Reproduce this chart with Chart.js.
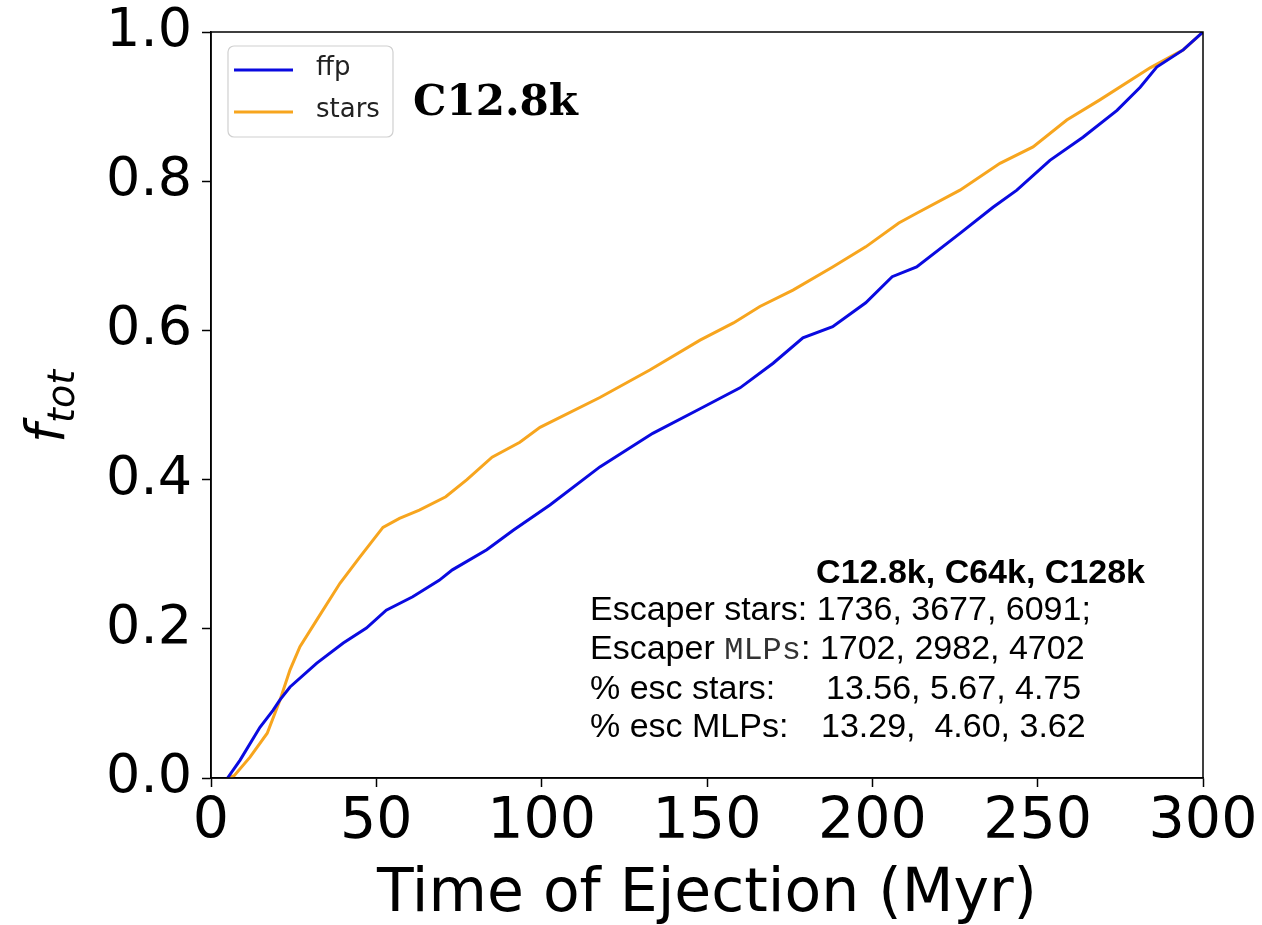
<!DOCTYPE html>
<html>
<head>
<meta charset="utf-8">
<script src="https://cdn.jsdelivr.net/npm/chart.js@4"></script>
<style>
  html, body { margin: 0; padding: 0; background: #fff; }
  #wrap { width: 1262px; height: 925px; }
</style>
</head>
<body>
<div id="wrap"><canvas id="chart"></canvas></div>
<script>
// cumulative escape fraction vs ejection time
const ffpTime = [5, 8.8, 14.8, 18.8, 20.9, 23.9, 32, 40, 47, 53, 61, 69, 73, 83.4, 91.4, 102.5, 117.6, 133.6, 147.9, 160, 170, 179, 188, 198, 206, 213.4, 226.5, 236.5, 243.7, 253.7, 263.7, 274, 281, 286, 294, 300];
const ffpFrac = [0, 0.024, 0.068, 0.091, 0.105, 0.122, 0.154, 0.181, 0.201, 0.225, 0.243, 0.265, 0.279, 0.306, 0.332, 0.366, 0.417, 0.462, 0.495, 0.523, 0.556, 0.590, 0.605, 0.637, 0.672, 0.685, 0.73, 0.765, 0.788, 0.828, 0.859, 0.895, 0.926, 0.953, 0.976, 1.0];

const starTime = [5, 7, 11.8, 17, 20.9, 23.9, 26.9, 32, 39, 45, 52, 57, 63, 71, 77.4, 85, 93.4, 99.5, 117.6, 132.7, 147.9, 158, 166, 176, 188, 198, 208, 213.4, 226.5, 238.6, 248.6, 258.8, 268.8, 284, 294, 300];
const starFrac = [0, 0.003, 0.028, 0.06, 0.105, 0.145, 0.176, 0.212, 0.261, 0.296, 0.336, 0.348, 0.359, 0.377, 0.40, 0.43, 0.45, 0.47, 0.51, 0.547, 0.587, 0.61, 0.632, 0.654, 0.685, 0.712, 0.744, 0.757, 0.788, 0.824, 0.846, 0.882, 0.909, 0.952, 0.976, 1.0];

const seriesNames = ['ffp', 'stars'];
const xTicks = [0, 50, 100, 150, 200, 250, 300];
const yTicks = [0.0, 0.2, 0.4, 0.6, 0.8, 1.0];

const modelLabel = 'C12.8k';
const infoHeader = 'C12.8k, C64k, C128k';
const infoRows = [
    ['Escaper stars: 1736, 3677, 6091;'],
    ['Escaper ', 'MLPs', ': 1702, 2982, 4702'],
    ['% esc stars:', '13.56, 5.67, 4.75'],
    ['% esc MLPs:', '13.29,  4.60, 3.62']
];

const BLUE = '#0a0ae0';
const ORANGE = '#f7a51e';

function toPoints(xs, ys) {
    return xs.map((x, i) => ({x: x, y: ys[i]}));
}

const extras = {
    id: 'extras',
    afterDraw(chart) {
        const ctx = chart.ctx;
        const a = chart.chartArea;
        ctx.save();

        // box round the axes
        ctx.strokeStyle = '#000';
        ctx.lineWidth = 1.5;
        ctx.strokeRect(a.left, a.top, a.right - a.left, a.bottom - a.top);

        // y title f_tot (italic, subscript)
        ctx.translate(46, 407);
        ctx.rotate(-Math.PI / 2);
        ctx.fillStyle = '#000';
        ctx.textBaseline = 'alphabetic';
        ctx.font = 'italic 54px "DejaVu Sans"';
        const wf = ctx.measureText('f').width;
        ctx.font = 'italic 38px "DejaVu Sans"';
        const ws = ctx.measureText('tot').width;
        const x0 = -(wf + ws) / 2;
        ctx.font = 'italic 54px "DejaVu Sans"';
        ctx.fillText('f', x0, 18);
        ctx.font = 'italic 38px "DejaVu Sans"';
        ctx.fillText('tot', x0 + wf + 1, 28);
        ctx.setTransform(1, 0, 0, 1, 0, 0);

        // legend
        ctx.fillStyle = 'rgba(255,255,255,0.85)';
        ctx.strokeStyle = '#d0d0d0';
        ctx.lineWidth = 1.2;
        ctx.beginPath();
        ctx.roundRect(228, 46, 165, 91, 6);
        ctx.fill();
        ctx.stroke();
        chart.data.datasets.forEach((ds, i) => {
            const yy = 70 + i * 42;
            ctx.strokeStyle = ds.borderColor;
            ctx.lineWidth = 3;
            ctx.beginPath();
            ctx.moveTo(234, yy);
            ctx.lineTo(293, yy);
            ctx.stroke();
            ctx.fillStyle = '#222';
            ctx.font = '26px "DejaVu Sans"';
            ctx.textBaseline = 'middle';
            ctx.fillText(ds.label, 316, yy - 2);
        });

        // model name
        ctx.fillStyle = '#000';
        ctx.font = 'bold 42px "DejaVu Serif"';
        ctx.textBaseline = 'alphabetic';
        ctx.fillText(modelLabel, 413, 115);

        // info block
        ctx.font = 'bold 34px "Liberation Sans"';
        ctx.textAlign = 'right';
        ctx.fillText(infoHeader, 1145, 583);
        ctx.textAlign = 'left';
        const sans = '34px "Liberation Sans"';
        const mono = '32px "Liberation Mono"';
        const rowY = [620, 659, 699, 737];
        // row 1
        ctx.font = sans;
        ctx.fillText(infoRows[0][0], 590, rowY[0]);
        // row 2 with monospace MLPs
        let xx = 590;
        ctx.fillText(infoRows[1][0], xx, rowY[1]);
        xx += ctx.measureText(infoRows[1][0]).width;
        ctx.font = mono;
        ctx.fillStyle = '#333';
        ctx.fillText(infoRows[1][1], xx, rowY[1]);
        xx += ctx.measureText(infoRows[1][1]).width;
        ctx.font = sans;
        ctx.fillStyle = '#000';
        ctx.fillText(infoRows[1][2], xx, rowY[1]);
        // rows 3-4, numbers in a column
        ctx.fillText(infoRows[2][0], 590, rowY[2]);
        ctx.fillText(infoRows[2][1], 826, rowY[2]);
        ctx.fillText(infoRows[3][0], 590, rowY[3]);
        ctx.fillText(infoRows[3][1], 821, rowY[3]);

        ctx.restore();
    }
};

new Chart(document.getElementById('chart'), {
    type: 'line',
    data: {
        datasets: [{
            label: seriesNames[0],
            data: toPoints(ffpTime, ffpFrac),
            borderColor: BLUE,
            borderWidth: 3,
            pointRadius: 0,
            fill: false,
            tension: 0
        }, {
            label: seriesNames[1],
            data: toPoints(starTime, starFrac),
            borderColor: ORANGE,
            borderWidth: 3,
            pointRadius: 0,
            fill: false,
            tension: 0
        }]
    },
    options: {
        responsive: true,
        maintainAspectRatio: false,
        animation: false,
        layout: {padding: {top: 32, right: 59, bottom: 0, left: 0}},
        plugins: {
            legend: {display: false},
            tooltip: {enabled: false}
        },
        scales: {
            x: {
                type: 'linear',
                min: 0,
                max: 300,
                afterFit: s => { s.height = 147; s.paddingLeft = 0; s.paddingRight = 0; },
                afterBuildTicks: s => { s.ticks = xTicks.map(v => ({value: v})); },
                grid: {drawOnChartArea: false, drawTicks: true, tickLength: 9, tickWidth: 1.5, color: '#000'},
                border: {display: true, color: '#000', width: 1.5},
                ticks: {
                    color: '#000',
                    font: {family: 'DejaVu Sans', size: 57},
                    padding: 2,
                    maxRotation: 0
                },
                title: {
                    display: true,
                    text: 'Time of Ejection (Myr)',
                    color: '#000',
                    font: {family: 'DejaVu Sans', size: 60, lineHeight: 1},
                    padding: {top: 0, bottom: 0}
                }
            },
            y: {
                min: 0,
                max: 1,
                afterFit: s => { s.width = 211; s.paddingTop = 0; s.paddingBottom = 0; },
                afterBuildTicks: s => { s.ticks = yTicks.map(v => ({value: v})); },
                grid: {drawOnChartArea: false, drawTicks: true, tickLength: 9, tickWidth: 1.5, color: '#000'},
                border: {display: true, color: '#000', width: 1.5},
                ticks: {
                    color: '#000',
                    font: {family: 'DejaVu Sans', size: 54},
                    padding: 10,
                    callback: v => v.toFixed(1)
                }
            }
        }
    },
    plugins: [extras]
});
</script>
</body>
</html>
